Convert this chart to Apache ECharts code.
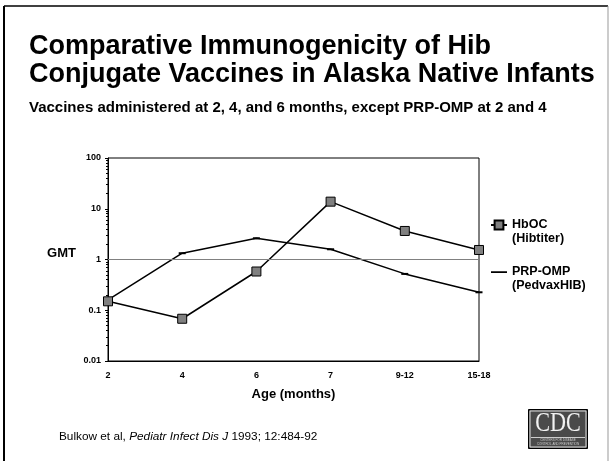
<!DOCTYPE html>
<html>
<head>
<meta charset="utf-8">
<script src="https://cdn.jsdelivr.net/npm/echarts@6/dist/echarts.min.js"></script>
<style>
html,body{margin:0;padding:0;background:#fff;}
#chart{width:612px;height:461px;}
</style>
</head>
<body>
<div id="chart"></div>
<script>
var ageLabels = ['2', '4', '6', '7', '9-12', '15-18'];
var hbocValues = [0.15, 0.068, 0.58, 13.8, 3.65, 1.54];
var prpValues = [0.16, 1.33, 2.62, 1.59, 0.52, 0.226];
var yTicks = [0.01, 0.1, 1, 10, 100];

var font = 'Liberation Sans, Arial, sans-serif';
var subNames = {'HbOC': '(Hibtiter)', 'PRP-OMP': '(PedvaxHIB)'};

function drawChart(){
	var myChart = echarts.init(document.getElementById('chart'));
	var option = {
		animation: false,
		backgroundColor: '#fff',
		title: [
			{
				text: 'Comparative Immunogenicity of Hib\nConjugate Vaccines in Alaska Native Infants',
				left: 24, top: 28,
				textStyle: {fontFamily: font, fontSize: 27, fontWeight: 'bold', color: '#000', lineHeight: 28}
			},
			{
				text: 'Vaccines administered at 2, 4, and 6 months, except PRP-OMP at 2 and 4',
				left: 24, top: 95,
				textStyle: {fontFamily: font, fontSize: 15, fontWeight: 'bold', color: '#000'}
			}
		],
		grid: {
			left: 108, right: 133, top: 158, bottom: 100,
			show: true, borderColor: '#000', borderWidth: 1
		},
		legend: {
			orient: 'vertical',
			left: 490, top: 204,
			padding: 0,
			itemWidth: 16, itemHeight: 11, itemGap: 5,
			textStyle: {fontFamily: font, fontSize: 12.5, fontWeight: 'bold', color: '#000', lineHeight: 14},
			// blank first line keeps the icon level with the series name
			formatter: function(name){
				return ' \n' + name + '\n' + subNames[name];
			},
			data: [
				'HbOC',
				{name: 'PRP-OMP', icon: 'path://M0,0h0.1v0.1h-0.1zM0,4.7h16v1.7h-16zM15.9,10.9h0.1v0.1h-0.1z'}
			]
		},
		xAxis: {
			type: 'category',
			data: ageLabels,
			boundaryGap: false,
			name: 'Age (months)',
			nameLocation: 'middle',
			nameGap: 27,
			nameTextStyle: {fontFamily: font, fontSize: 13, fontWeight: 'bold', color: '#000'},
			axisLine: {lineStyle: {color: '#000', width: 1}},
			axisTick: {show: false},
			axisLabel: {fontFamily: font, fontSize: 9, fontWeight: 'bold', color: '#000', margin: 10},
			splitLine: {show: false}
		},
		yAxis: {
			type: 'log',
			logBase: 10,
			min: yTicks[0],
			max: yTicks[yTicks.length - 1],
			name: 'GMT',
			nameLocation: 'middle',
			nameRotate: 0,
			nameGap: 32,
			nameTextStyle: {fontFamily: font, fontSize: 13, fontWeight: 'bold', color: '#000', verticalAlign: 'bottom'},
			axisLine: {show: true, lineStyle: {color: '#000', width: 1}},
			axisTick: {show: true, length: 3, lineStyle: {color: '#000'}},
			minorTick: {show: true, splitNumber: 9, length: 2, lineStyle: {color: '#000'}},
			axisLabel: {
				fontFamily: font, fontSize: 9, fontWeight: 'bold', color: '#000', margin: 7,
				formatter: function(v){ return String(+v.toPrecision(2)); }
			},
			splitLine: {show: false}
		},
		series: [
			{
				name: 'HbOC',
				type: 'line',
				data: hbocValues,
				symbol: 'rect',
				symbolSize: 9,
				itemStyle: {color: '#808080', borderColor: '#000', borderWidth: 1},
				lineStyle: {color: '#000', width: 1.5},
				markLine: {
					silent: true,
					symbol: 'none',
					label: {show: false},
					lineStyle: {color: '#808080', width: 1, type: 'solid'},
					data: [{yAxis: 1}]
				},
				z: 3
			},
			{
				name: 'PRP-OMP',
				type: 'line',
				data: prpValues,
				symbol: 'rect',
				symbolSize: [7, 2],
				itemStyle: {color: '#000'},
				lineStyle: {color: '#000', width: 1.5},
				z: 2
			}
		],
		graphic: [
			{type: 'line', shape: {x1: 4, y1: 6, x2: 4, y2: 461}, style: {stroke: '#000', lineWidth: 2}},
			{type: 'line', shape: {x1: 4, y1: 6, x2: 608, y2: 6}, style: {stroke: '#000', lineWidth: 1.5}},
			{type: 'line', shape: {x1: 608, y1: 6, x2: 608, y2: 461}, style: {stroke: '#999', lineWidth: 1}},
			{
				type: 'text', left: 59, top: 431,
				style: {
					text: '{n|Bulkow et al, }{i|Pediatr Infect Dis J}{n| 1993; 12:484-92}',
					rich: {
						n: {fontFamily: font, fontSize: 11.8, fill: '#000'},
						i: {fontFamily: font, fontSize: 11.8, fontStyle: 'italic', fill: '#000'}
					}
				}
			},
			// CDC logo
			{type: 'rect', shape: {x: 528.5, y: 409.5, width: 59, height: 39}, style: {fill: '#4a4a4a', stroke: '#000', lineWidth: 1}},
			{type: 'rect', shape: {x: 530, y: 411, width: 56, height: 36}, style: {fill: 'none', stroke: '#ddd', lineWidth: 1}},
			{type: 'text', x: 558, y: 424, scaleX: 0.82, z: 10, style: {text: 'CDC', fill: '#f2f2f2', font: '27px "Liberation Serif", serif', align: 'center', verticalAlign: 'middle'}},
			{type: 'line', shape: {x1: 531, y1: 437.5, x2: 585, y2: 437.5}, style: {stroke: '#ccc', lineWidth: 1}},
			{type: 'text', x: 558, y: 442, style: {text: 'CENTERS FOR DISEASE\nCONTROL AND PREVENTION', fill: '#ccc', font: '3px sans-serif', align: 'center', verticalAlign: 'middle', lineHeight: 4}}
		]
	};
	myChart.setOption(option);
}
window.addEventListener('load', drawChart);
</script>
</body>
</html>
